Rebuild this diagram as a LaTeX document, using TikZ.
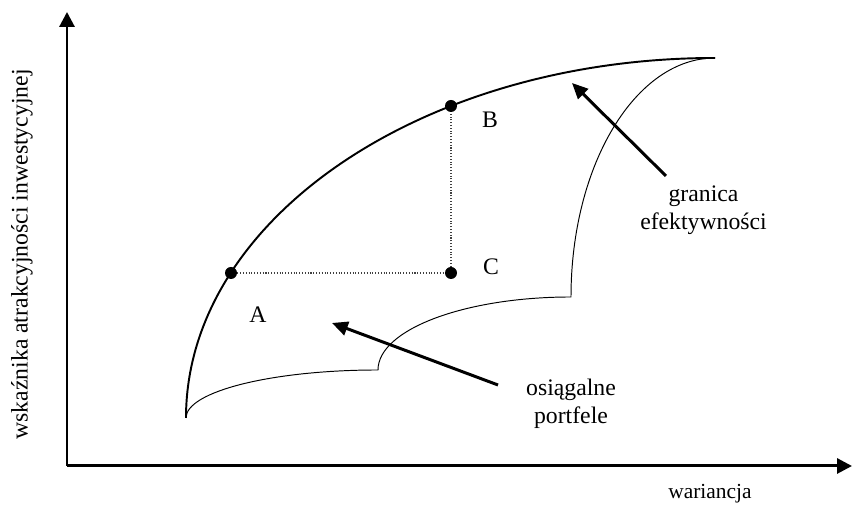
\documentclass[tikz,border=0pt]{standalone}
\usepackage{fontspec}
\setmainfont{Liberation Serif}
\usetikzlibrary{arrows.meta}
\tikzset{
 dot/.style={circle,fill=black,inner sep=0pt,minimum size=2.4mm},
 lbl/.style={font=\fontsize{13.5}{16.2}\selectfont,align=center,inner sep=0pt},
 axis/.style={line width=1.7pt,-{Triangle[length=8.5pt,width=8.5pt]}},
 pointer/.style={line width=1.7pt,-{Triangle[length=9pt,width=8pt]}},
 frontier/.style={line width=1.1pt},
 border/.style={line width=0.55pt},
 guide/.style={densely dotted,line width=0.6pt,black!75},
}
\begin{document}
\begin{tikzpicture}[x=0.2mm,y=0.2mm]
\useasboundingbox (0,0) rectangle (852,505);
% axes
\coordinate (orig) at (67,39);
\coordinate (ytip) at (67,493);
\coordinate (xtip) at (852,39);
\draw[axis] (orig) -- (ytip);
\draw[axis] (orig) -- (xtip);
\node[lbl,rotate=90] (ylab) at (22,250.5) {wskaźnika atrakcyjności inwestycyjnej};
\node[lbl,anchor=base,font=\fontsize{12.2}{14}\selectfont] (xlab) at (710,6) {wariancja};
% feasible set
\coordinate (low) at (186,87);
\draw[border] (low) arc[start angle=180,end angle=90,x radius=38.4mm,y radius=9.6mm]
  arc[start angle=180,end angle=90,x radius=38.6mm,y radius=14.6mm]
  arc[start angle=180,end angle=90,x radius=28.8mm,y radius=47.8mm];
\draw[frontier] (low) arc[start angle=180,end angle=90,x radius=105.8mm,y radius=72mm];
% points
\node[dot] (ptA) at (231,232) {};
\node[dot] (ptB) at (451,399) {};
\node[dot] (ptC) at (451,232) {};
\draw[guide] (ptA) -- (ptC) -- (ptB);
\node[lbl] (labA) at (258,190) {A};
\node[lbl] (labB) at (490,385) {B};
\node[lbl] (labC) at (491,238) {C};
% annotations
\node[lbl] (front) at (703.5,295) {granica\\efektywności};
\node[lbl] (feas) at (571,101) {osiągalne\\portfele};
\coordinate (frontTail) at (666,329);
\coordinate (frontTip) at (572,422);
\coordinate (feasTail) at (498,120);
\coordinate (feasTip) at (332,182);
\draw[pointer] (frontTail) -- (frontTip);
\draw[pointer] (feasTail) -- (feasTip);
\end{tikzpicture}
\end{document}
